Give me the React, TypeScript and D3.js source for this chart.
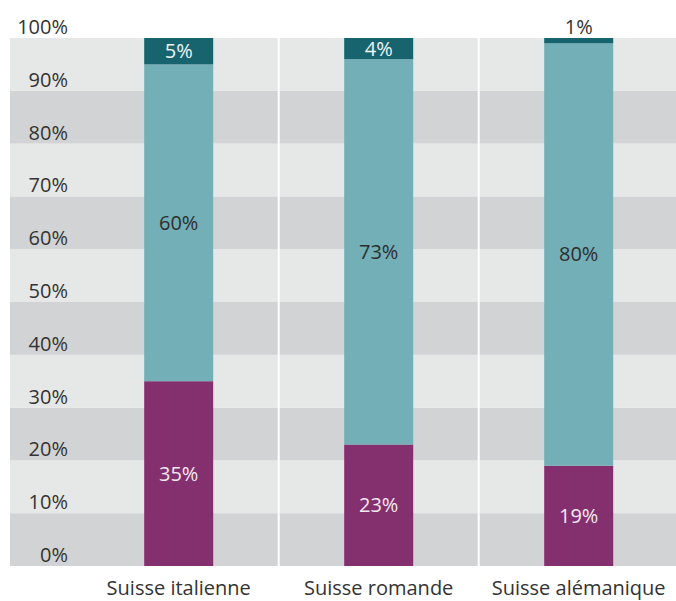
import React from "react";
import * as d3 from "d3";

const categories = ["Suisse italienne", "Suisse romande", "Suisse alémanique"];
const bottomSeries = [35, 23, 19];
const middleSeries = [60, 73, 80];
const topSeries = [5, 4, 1];
const yTicks = [0, 10, 20, 30, 40, 50, 60, 70, 80, 90, 100];

const W = 676;
const H = 601;
const plotTop = 38;
const plotBottom = 566;
const bgLeft = 10;
const colLeft = 78.7;
const colRight = 678.7;

const colors = ["#84306f", "#72afb6", "#17646e"];
const textColors = ["#f3e9f1", "#2e2e2e", "#eef4f5"];
const FONT = "'Open Sans', 'Noto Sans', sans-serif";

export default function App() {
  const y = d3.scaleLinear().domain([0, 100]).range([plotBottom, plotTop]);
  const x = d3
    .scaleBand<string>()
    .domain(categories)
    .range([colLeft, colRight])
    .paddingInner(0.655)
    .paddingOuter(0.655 / 2);

  const rows = categories.map((c, i) => ({
    cat: c,
    values: [bottomSeries[i], middleSeries[i], topSeries[i]],
  }));
  const stack = d3.stack<any>().keys(["0", "1", "2"]).value((d, k) => d.values[+k]);
  const series = stack(rows);

  const bands = yTicks.slice(0, -1);
  const step = x.step();

  return (
    <svg width={W} height={H} style={{ display: "block", position: "absolute", left: 0, top: 0 }}>
      <rect x={0} y={0} width={W} height={H} fill="#ffffff" />
      {bands.map((v, i) => (
        <rect
          key={v}
          x={bgLeft}
          y={y(v + 10)}
          width={W - bgLeft}
          height={y(v) - y(v + 10)}
          fill={i % 2 === 0 ? "#d2d3d5" : "#e6e7e7"}
        />
      ))}
      {categories.slice(1).map((c, i) => (
        <line
          key={c}
          x1={colLeft + step * (i + 1)}
          x2={colLeft + step * (i + 1)}
          y1={plotTop}
          y2={plotBottom}
          stroke="#ffffff"
          strokeWidth={2}
        />
      ))}
      {yTicks.map((v) => (
        <text
          key={v}
          x={68}
          y={y(v) - 4}
          textAnchor="end"
          fontFamily={FONT}
          fontSize={20}
          fill="#333333"
        >
          {v}%
        </text>
      ))}
      {series.map((s, si) =>
        s.map((d, i) => {
          const x0 = x(categories[i])!;
          const y0 = y(d[1]);
          const y1 = y(d[0]);
          return (
            <rect
              key={si + "-" + i}
              x={x0}
              y={y0}
              width={x.bandwidth()}
              height={y1 - y0}
              fill={colors[si]}
            />
          );
        })
      )}
      {series.map((s, si) =>
        s.map((d, i) => {
          const val = d[1] - d[0];
          const cx = x(categories[i])! + x.bandwidth() / 2;
          const h = y(d[0]) - y(d[1]);
          const small = h < 18;
          const cy = small ? y(d[1]) - 4 : (y(d[0]) + y(d[1])) / 2 + 7;
          return (
            <text
              key={"t" + si + "-" + i}
              x={cx}
              y={cy}
              textAnchor="middle"
              fontFamily={FONT}
              fontSize={20}
              fill={small ? "#333333" : textColors[si]}
            >
              {val}%
            </text>
          );
        })
      )}
      {categories.map((c) => (
        <text
          key={c}
          x={x(c)! + x.bandwidth() / 2}
          y={595}
          textAnchor="middle"
          fontFamily={FONT}
          fontSize={20}
          fill="#333333"
        >
          {c}
        </text>
      ))}
    </svg>
  );
}
